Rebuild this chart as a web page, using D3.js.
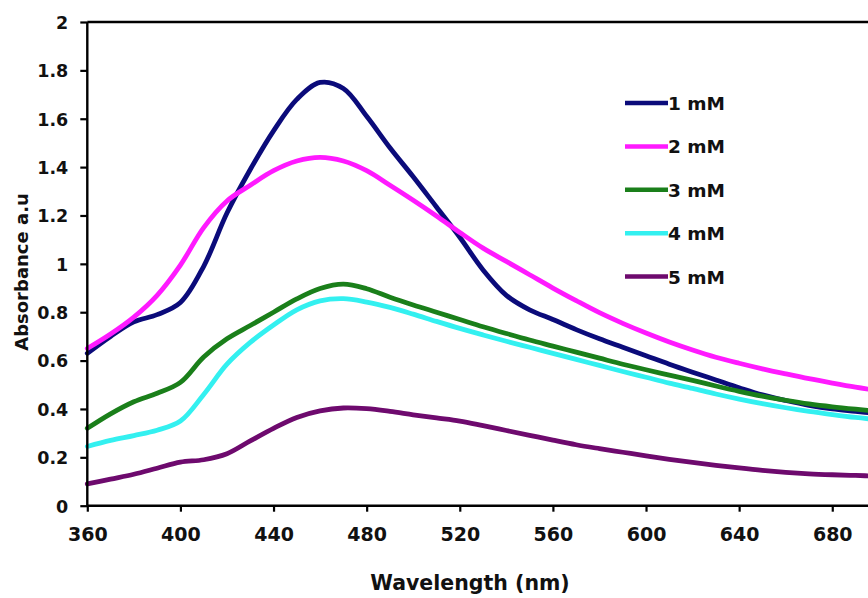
<!DOCTYPE html>
<html>
<head>
<meta charset="utf-8">
<script src="https://cdn.jsdelivr.net/npm/d3@7/dist/d3.min.js"></script>
<style>
  html, body { margin: 0; padding: 0; background: #fff; }
  svg { display: block; }
</style>
</head>
<body>
<svg id="chart" width="868" height="598"></svg>
<script>
// ---- data ----
const wavelengths = [360,370,380,390,400,410,420,430,440,450,460,470,480,490,500,510,520,530,540,550,560,570,580,590,600,610,620,630,640,650,660,670,680,690,700];
const series1mM = [0.63,0.70,0.76,0.79,0.84,0.99,1.21,1.39,1.55,1.68,1.75,1.725,1.61,1.48,1.36,1.235,1.11,0.975,0.87,0.81,0.77,0.728,0.69,0.655,0.62,0.585,0.552,0.52,0.488,0.458,0.435,0.415,0.40,0.39,0.38];
const series2mM = [0.65,0.71,0.78,0.87,0.995,1.15,1.26,1.325,1.385,1.425,1.44,1.425,1.385,1.325,1.263,1.198,1.13,1.065,1.01,0.955,0.90,0.848,0.798,0.754,0.714,0.677,0.644,0.614,0.589,0.566,0.545,0.525,0.507,0.49,0.475];
const series3mM = [0.32,0.38,0.43,0.465,0.51,0.615,0.69,0.745,0.80,0.855,0.898,0.916,0.897,0.862,0.83,0.80,0.77,0.74,0.712,0.685,0.66,0.635,0.61,0.585,0.562,0.54,0.518,0.495,0.473,0.453,0.436,0.421,0.409,0.399,0.39];
const series4mM = [0.245,0.27,0.29,0.312,0.35,0.46,0.585,0.675,0.747,0.81,0.847,0.856,0.842,0.82,0.792,0.762,0.733,0.706,0.68,0.655,0.63,0.605,0.58,0.555,0.531,0.507,0.485,0.462,0.441,0.422,0.405,0.39,0.377,0.365,0.355];
const series5mM = [0.09,0.11,0.13,0.155,0.18,0.19,0.215,0.268,0.32,0.365,0.392,0.404,0.401,0.39,0.376,0.363,0.35,0.331,0.311,0.291,0.271,0.252,0.236,0.221,0.206,0.192,0.179,0.167,0.156,0.146,0.138,0.132,0.128,0.125,0.122];
const seriesNames = ["1 mM","2 mM","3 mM","4 mM","5 mM"];
const seriesColors = ["#0b0b7a","#ff1aff","#1a7f1a","#33f0f0","#6e0a6e"];
const xTicks = [360,400,440,480,520,560,600,640,680];
const yTicks = [0,0.2,0.4,0.6,0.8,1,1.2,1.4,1.6,1.8,2];
const xTitle = "Wavelength (nm)";
const yTitle = "Absorbance a.u";

const allSeries = [series1mM, series2mM, series3mM, series4mM, series5mM];

// ---- layout ----
const svg = d3.select("#chart");
const plotLeft = 87.3, plotTop = 22, plotBottom = 505.7;
const x = d3.scaleLinear().domain([360, 700]).range([plotLeft, plotLeft + 340 * 2.328]);
const y = d3.scaleLinear().domain([0, 2]).range([plotBottom, plotTop]);

const tickFont = "'DejaVu Sans', sans-serif";

// lines
const line = d3.line()
  .x((d, i) => x(wavelengths[i]))
  .y(d => y(d))
  .curve(d3.curveCatmullRom.alpha(0.5));

svg.append("g").selectAll("path")
  .data(allSeries)
  .join("path")
  .attr("d", d => line(d))
  .attr("fill", "none")
  .attr("stroke", (d, i) => seriesColors[i])
  .attr("stroke-width", 4.8)
  .attr("stroke-linejoin", "round")
  .attr("stroke-linecap", "round");

// frame (top + right)
svg.append("path")
  .attr("d", `M${plotLeft},${plotTop}H${x(700)}V${plotBottom}`)
  .attr("fill", "none").attr("stroke", "#000").attr("stroke-width", 2.4);

// y axis
const yAxis = d3.axisLeft(y).tickValues(yTicks).tickSize(7).tickPadding(12)
  .tickFormat(d => d3.format("")(d));
const gy = svg.append("g").attr("transform", `translate(${plotLeft},0)`).call(yAxis);
gy.select(".domain").attr("stroke-width", 2.4).attr("d", `M-0,${plotBottom}V${plotTop}`);
gy.selectAll(".tick line").attr("stroke-width", 2.2);
gy.selectAll(".tick text")
  .attr("font-family", tickFont).attr("font-weight", "bold").attr("font-size", 17.5)
  .attr("fill", "#111").attr("dy", "0.36em");

// x axis
const xAxis = d3.axisBottom(x).tickValues(xTicks).tickSize(6).tickPadding(16);
const gx = svg.append("g").attr("transform", `translate(0,${plotBottom})`).call(xAxis);
gx.select(".domain").attr("stroke-width", 2.4).attr("d", `M${plotLeft},0H${x(700)}`);
gx.selectAll(".tick line").attr("stroke-width", 2.2);
gx.selectAll(".tick text")
  .attr("font-family", tickFont).attr("font-weight", "bold").attr("font-size", 19)
  .attr("fill", "#111");

// titles
svg.append("text")
  .attr("x", 470).attr("y", 590)
  .attr("text-anchor", "middle")
  .attr("font-family", tickFont).attr("font-weight", "bold").attr("font-size", 20.5)
  .attr("fill", "#111")
  .text(xTitle);

svg.append("text")
  .attr("transform", "translate(28,272) rotate(-90)")
  .attr("text-anchor", "middle")
  .attr("font-family", tickFont).attr("font-weight", "bold").attr("font-size", 18)
  .attr("fill", "#111")
  .text(yTitle);

// legend
const legend = svg.append("g");
const legY0 = 103, legStep = 43.4;
seriesNames.forEach((name, i) => {
  const ly = legY0 + i * legStep;
  legend.append("line")
    .attr("x1", 625).attr("x2", 668).attr("y1", ly).attr("y2", ly)
    .attr("stroke", seriesColors[i]).attr("stroke-width", 4.5);
  legend.append("text")
    .attr("x", 668).attr("y", ly + 7)
    .attr("font-family", tickFont).attr("font-weight", "bold").attr("font-size", 18.5)
    .attr("fill", "#111")
    .text(name);
});
</script>
</body>
</html>
